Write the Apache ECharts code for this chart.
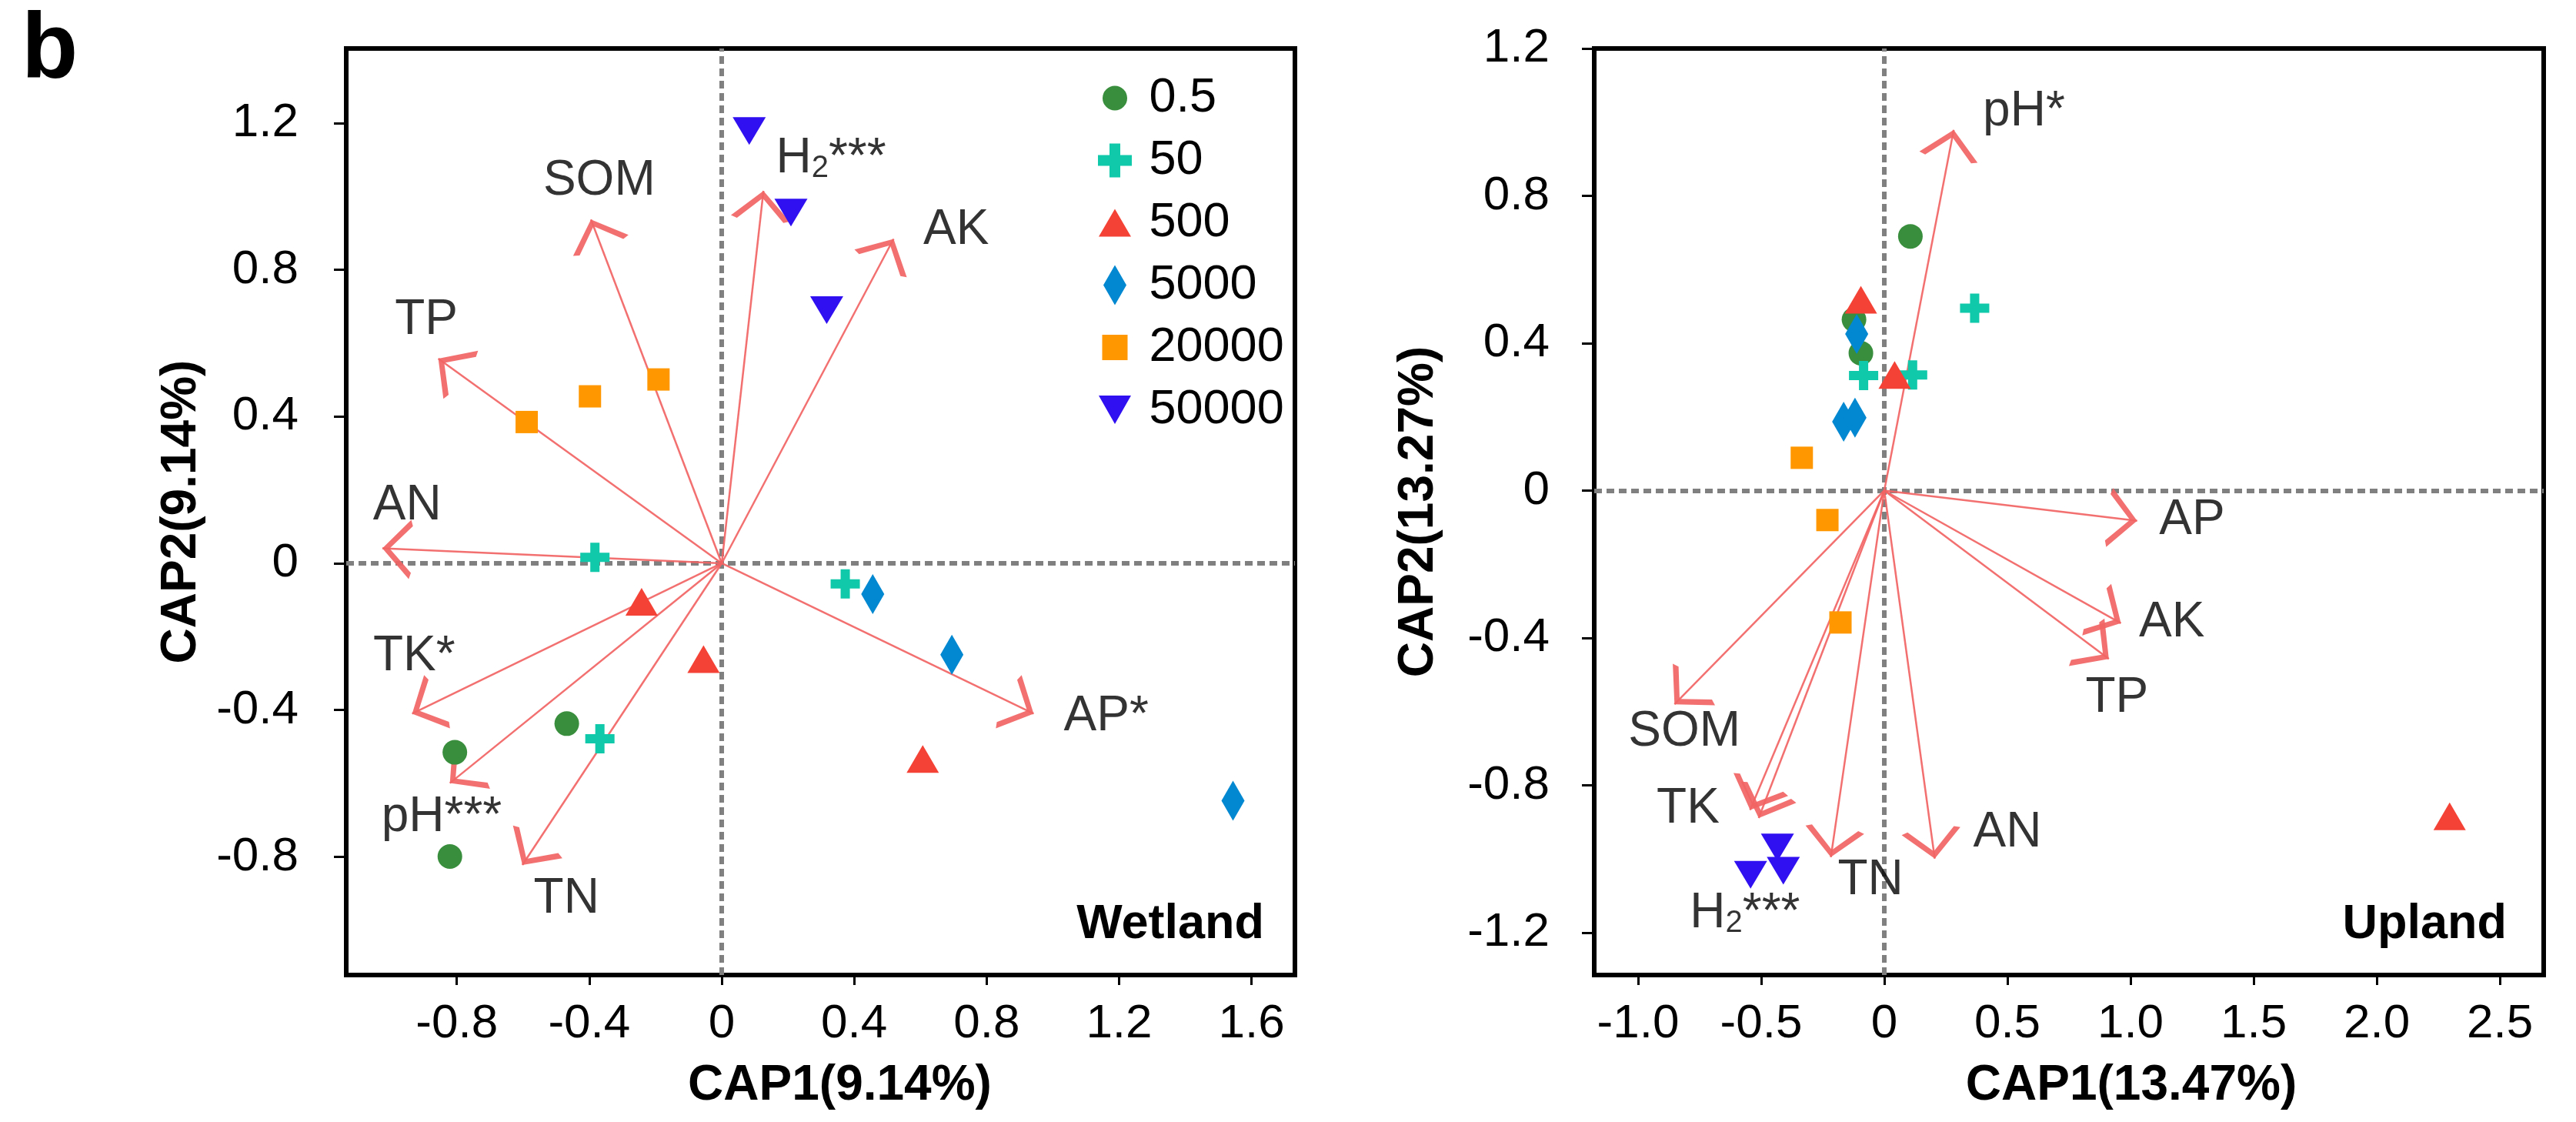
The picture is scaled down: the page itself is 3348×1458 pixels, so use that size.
<!DOCTYPE html>
<html>
<head>
<meta charset="utf-8">
<script src="https://cdn.jsdelivr.net/npm/echarts@6/dist/echarts.min.js"></script>
<style>
html, body { margin: 0; padding: 0; background: #fff; }
#main { width: 3348px; height: 1458px; }
</style>
</head>
<body>
<div id="main"></div>
<script>
// groups (legend)
var groupNames = ['0.5', '50', '500', '5000', '20000', '50000'];
var groupColors = ['#388e3c', '#10c8aa', '#f44336', '#0288d1', '#ff9800', '#3010f0'];

// Wetland samples [CAP1, CAP2]
var wet_05 = [[-0.468, -0.437], [-0.806, -0.515], [-0.821, -0.799]];
var wet_50 = [[-0.383, 0.016], [0.373, -0.056], [-0.368, -0.478]];
var wet_500 = [[-0.242, -0.105], [-0.055, -0.261], [0.607, -0.533]];
var wet_5000 = [[0.456, -0.084], [0.695, -0.249], [1.544, -0.647]];
var wet_20000 = [[-0.589, 0.385], [-0.398, 0.455], [-0.191, 0.501]];
var wet_50000 = [[0.083, 1.178], [0.209, 0.956], [0.317, 0.690]];

// Wetland environmental vectors (arrow tips)
var wetArrowTips = [[-0.395, 0.937], [0.126, 1.015], [0.519, 0.884], [-0.856, 0.558], [-1.025, 0.041],
	[-0.935, -0.410], [-0.821, -0.599], [-0.602, -0.822], [0.942, -0.410]];
var wetLabelText = ['SOM', 'H2***', 'AK', 'TP', 'AN', 'TK*', 'AP*', 'pH***', 'TN'];
var wetLabelPos = [[-0.370, 1.042], [0.330, 1.102], [0.708, 0.908], [-0.892, 0.661], [-0.950, 0.157],
	[-0.929, -0.255], [1.161, -0.418], [-0.846, -0.692], [-0.469, -0.915]];

// Upland samples
var up_05 = [[0.106, 0.690], [-0.123, 0.464], [-0.095, 0.373]];
var up_50 = [[0.367, 0.495], [-0.084, 0.312], [0.115, 0.314]];
var up_500 = [[-0.095, 0.518], [0.042, 0.314], [2.296, -0.884]];
var up_5000 = [[-0.112, 0.425], [-0.165, 0.187], [-0.119, 0.198]];
var up_20000 = [[-0.335, 0.089], [-0.231, -0.080], [-0.178, -0.358]];
var up_50000 = [[-0.543, -1.043], [-0.434, -0.969], [-0.410, -1.032]];

var upArrowTips = [[0.282, 0.979], [1.027, -0.082], [0.961, -0.360], [0.912, -0.457], [-0.852, -0.580],
	[-0.545, -0.867], [-0.510, -0.889], [-0.217, -0.995], [0.205, -0.999]];
var upLabelText = ['pH*', 'AP', 'AK', 'TP', 'SOM', 'TK', 'H2***', 'TN', 'AN'];
var upLabelPos = [[0.567, 1.028], [1.250, -0.082], [1.168, -0.360], [0.945, -0.563], [-0.812, -0.655],
	[-0.797, -0.864], [-0.566, -1.149], [-0.056, -1.058], [0.500, -0.929]];

// tick labels
var wetXTicks = [-0.8, -0.4, 0, 0.4, 0.8, 1.2, 1.6];
var wetYTicks = [-0.8, -0.4, 0, 0.4, 0.8, 1.2];
var upXTicks = [-1.0, -0.5, 0, 0.5, 1.0, 1.5, 2.0, 2.5];
var upYTicks = [-1.2, -0.8, -0.4, 0, 0.4, 0.8, 1.2];

var FONT = "'Liberation Sans', Arial, sans-serif";

// symbols
var symCross = 'path://M13,0H25V13H38V25H25V38H13V25H0V13H13Z';
var symDown = 'path://M0,0H43L21.5,36Z';
var groupSymbols = ['circle', symCross, 'triangle', 'diamond', 'rect', symDown];
var groupSizes = [32, 38, [42, 36], [30, 52], 29, [43, 36]];

// legend icons in a common 44x52 frame
var frame = 'M0,0L0.01,0Z M44,52L43.99,52Z ';
var legendIcons = [
	'path://' + frame + 'M6,26A16,16 0 1,0 38,26A16,16 0 1,0 6,26Z',
	'path://' + frame + 'M15,4H29V19H44V33H29V48H15V33H0V19H15Z',
	'path://' + frame + 'M1,44L43,44L22,8Z',
	'path://' + frame + 'M22,0L37,26L22,52L7,26Z',
	'path://' + frame + 'M5.5,9.5H38.5V42.5H5.5Z',
	'path://' + frame + 'M1,7.5H43L22,44.5Z'
];

// open arrow head, tip at bounding box centre
var arrowHead = 'path://M0,-38.5L0.01,-38.5L0,-38.49Z M0,0L19,36L15,38.5L0,9.5L-15,38.5L-19,36Z';

function tickFmt(v) {
	return v === 0 ? '0' : v.toFixed(1);
}

function makeXAxis(gi, min, max, ticks, name, pad) {
	return {
		gridIndex: gi, type: 'value', min: min, max: max,
		axisLine: { show: false, onZero: false },
		splitLine: { show: false },
		axisTick: { show: true, inside: false, length: 13, customValues: ticks, lineStyle: { color: '#000', width: 3 } },
		axisLabel: { margin: 33, color: '#000', fontSize: 62, fontFamily: FONT, customValues: ticks, formatter: tickFmt },
		name: name, nameLocation: 'middle', nameGap: 112,
		nameTextStyle: { color: '#000', fontSize: 64, fontWeight: 'bold', fontFamily: FONT, padding: [0, 0, 0, pad] }
	};
}

function makeYAxis(gi, min, max, ticks, name, gap, margin) {
	return {
		gridIndex: gi, type: 'value', min: min, max: max,
		axisLine: { show: false, onZero: false },
		splitLine: { show: false },
		axisTick: { show: true, inside: false, length: 16, customValues: ticks, lineStyle: { color: '#000', width: 3 } },
		axisLabel: { margin: margin, color: '#000', fontSize: 62, fontFamily: FONT, customValues: ticks, formatter: tickFmt },
		name: name, nameLocation: 'middle', nameGap: gap,
		nameTextStyle: { color: '#000', fontSize: 64, fontWeight: 'bold', fontFamily: FONT }
	};
}

// dashed zero line: an extra axis that sits on zero of the other axis
function zeroAxis(gi, min, max) {
	return {
		gridIndex: gi, type: 'value', min: min, max: max,
		axisLine: { show: true, onZero: true, lineStyle: { color: '#808080', width: 6, type: [10, 6], cap: 'butt' } },
		axisTick: { show: false }, axisLabel: { show: false }, splitLine: { show: false }
	};
}

function panelSeries(gi, groups, tips, labelText, labelPos) {
	var list = [];
	// vectors
	list.push({
		type: 'lines', coordinateSystem: 'cartesian2d', xAxisIndex: gi, yAxisIndex: gi,
		z: 3, silent: true,
		symbol: ['none', arrowHead], symbolSize: [38, 77],
		lineStyle: { color: '#f26464', width: 2.5, opacity: 0.92 },
		data: tips.map(function(t) { return { coords: [[0, 0], t] }; })
	});
	for(var i = 0; i < groups.length; i++) {
		list.push({
			type: 'scatter', name: groupNames[i], xAxisIndex: gi, yAxisIndex: gi, z: 4,
			symbol: groupSymbols[i], symbolSize: groupSizes[i],
			itemStyle: { color: groupColors[i], opacity: 1 },
			emphasis: { disabled: true },
			data: groups[i]
		});
	}
	// vector labels
	list.push({
		type: 'scatter', xAxisIndex: gi, yAxisIndex: gi, z: 5, silent: true,
		symbolSize: 0,
		emphasis: { disabled: true },
		label: {
			show: true, position: 'inside', color: '#000', fontSize: 64, fontFamily: FONT,
			textBorderWidth: 0, textShadowBlur: 0,
			formatter: function(p) {
				return p.name === 'H2***' ? '{n|H}{s|2}{n|***}' : p.name;
			},
			rich: {
				n: { fontSize: 64, fontFamily: FONT, color: '#000', textBorderWidth: 0 },
				s: { fontSize: 40, fontFamily: FONT, color: '#000', textBorderWidth: 0, verticalAlign: 'bottom' }
			}
		},
		data: labelPos.map(function(p, k) { return { name: labelText[k], value: p }; })
	});
	return list;
}

var series = panelSeries(0, [wet_05, wet_50, wet_500, wet_5000, wet_20000, wet_50000], wetArrowTips, wetLabelText, wetLabelPos)
	.concat(panelSeries(1, [up_05, up_50, up_500, up_5000, up_20000, up_50000], upArrowTips, upLabelText, upLabelPos));

var option = {
	animation: false,
	backgroundColor: '#fff',
	title: [
		{ text: 'b', left: 28, top: 8, padding: 0, textStyle: { fontSize: 120, fontWeight: 'bold', color: '#000', fontFamily: FONT } },
		{ text: 'Wetland', right: 1705, top: 1170, padding: 0, textStyle: { fontSize: 63, fontWeight: 'bold', color: '#000', fontFamily: FONT } },
		{ text: 'Upland', right: 90, top: 1170, padding: 0, textStyle: { fontSize: 63, fontWeight: 'bold', color: '#000', fontFamily: FONT } }
	],
	legend: {
		orient: 'vertical', left: 1427, top: 96, padding: 0,
		itemWidth: 44, itemHeight: 52, itemGap: 18, selectedMode: false,
		data: groupNames.map(function(n, i) { return { name: n, icon: legendIcons[i] }; }),
		formatter: function(n) { return ' ' + n; },
		textStyle: { fontSize: 63, color: '#000', fontFamily: FONT, lineHeight: 52 }
	},
	grid: [
		{ left: 450, top: 63, width: 1233, height: 1204, show: true, borderColor: '#000', borderWidth: 6, backgroundColor: 'transparent', outerBoundsMode: 'none', containLabel: false },
		{ left: 2072, top: 63, width: 1234, height: 1204, show: true, borderColor: '#000', borderWidth: 6, backgroundColor: 'transparent', outerBoundsMode: 'none', containLabel: false }
	],
	xAxis: [
		makeXAxis(0, -1.134, 1.731, wetXTicks, 'CAP1(9.14%)', 50),
		makeXAxis(1, -1.178, 2.678, upXTicks, 'CAP1(13.47%)', 162),
		zeroAxis(0, -1.134, 1.731),
		zeroAxis(1, -1.178, 2.678)
	],
	yAxis: [
		makeYAxis(0, -1.122, 1.403, wetYTicks, 'CAP2(9.14%)', 182, 62),
		makeYAxis(1, -1.315, 1.2, upYTicks, 'CAP2(13.27%)', 196, 58),
		zeroAxis(0, -1.122, 1.403),
		zeroAxis(1, -1.315, 1.2)
	],
	series: series
};

var chart = echarts.init(document.getElementById('main'));
chart.setOption(option);
</script>
</body>
</html>
